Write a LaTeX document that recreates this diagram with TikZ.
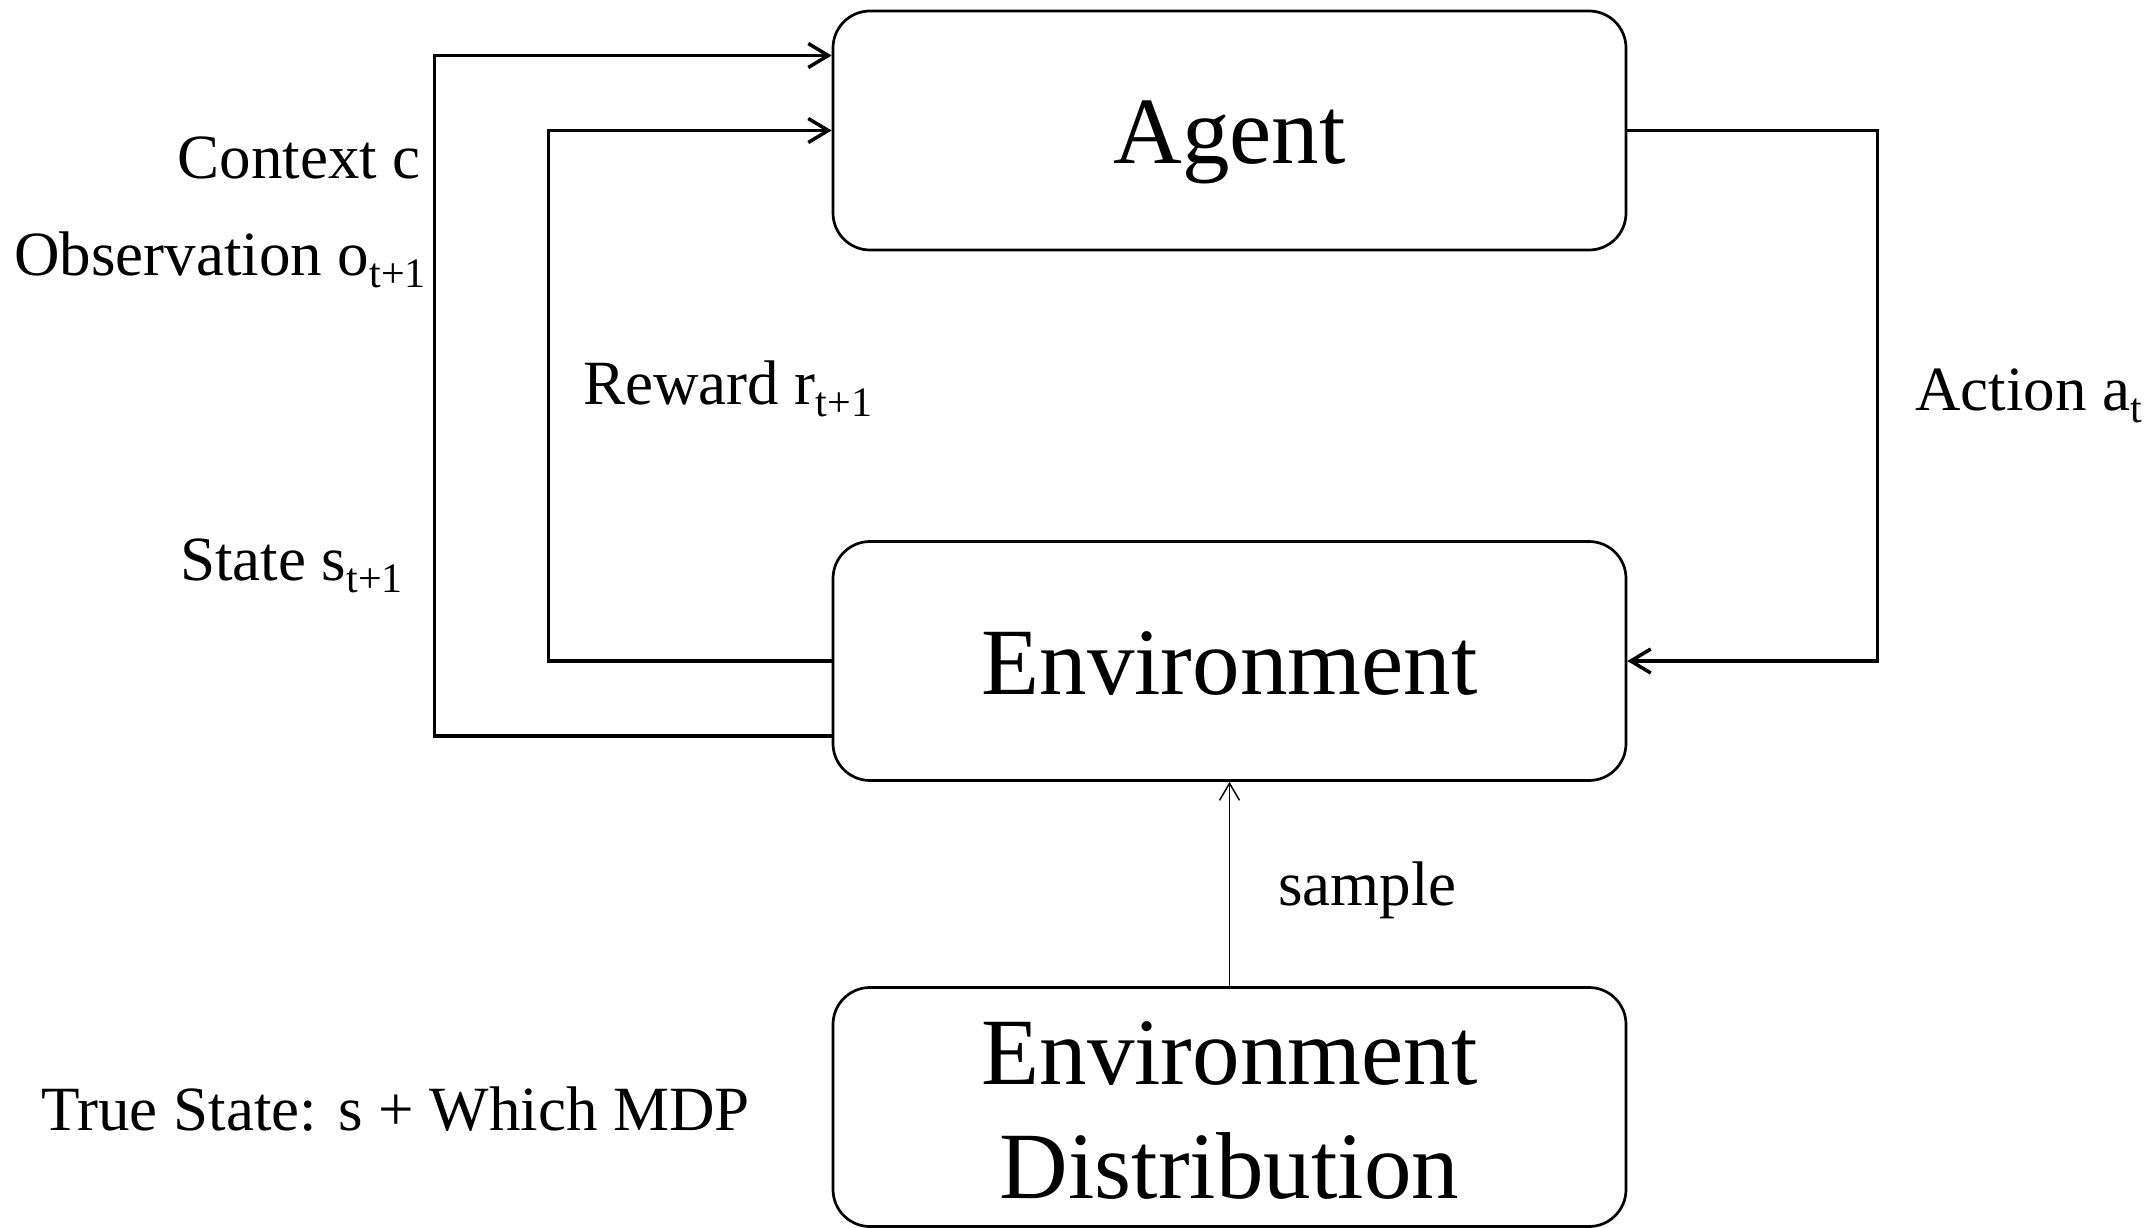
\documentclass[tikz,border=0pt]{standalone}
\usepackage{fontspec}
\setmainfont{Liberation Serif}
\usetikzlibrary{arrows.meta}
\newcommand{\sbt}[1]{\raisebox{-12pt}{\fontsize{42}{42}\selectfont #1}}
\begin{document}
\begin{tikzpicture}[x=1pt,y=-1pt,
  box/.style={draw, line width=2.7pt, rounded corners=37pt, minimum width=793pt, minimum height=239pt, inner sep=0pt},
  bigtxt/.style={font=\fontsize{95}{95}\selectfont},
  lbl/.style={font=\fontsize{63}{63}\selectfont, inner sep=0pt},
  conn/.style={line width=3.5pt, -{Straight Barb[length=20pt, width=24pt, line width=3.5pt]}},
  thinconn/.style={line width=1.5pt, -{Straight Barb[length=17pt, width=20pt, line width=1.5pt]}}]
\useasboundingbox (0,0) rectangle (2152,1228);
\node[box, bigtxt, text height=66pt, text depth=0pt] (agent) at (1229.5,130.5) {Agent};
\node[box, bigtxt, text height=66pt, text depth=0pt] (env) at (1229.5,661) {Environment};
\node[box] (dist) at (1229.5,1107) {};
\node[bigtxt, anchor=base, inner sep=0pt] (distA) at (1229.5,1084) {Environment};
\node[bigtxt, anchor=base, inner sep=0pt] (distB) at (1229.5,1198) {Distribution};
\draw[conn] ([yshift=-75pt]env.west) -- ++(-397,0) |- ([yshift=75pt]agent.west);
\draw[conn] (env.west) -- ++(-283,0) |- (agent.west);
\draw[conn] (agent.east) -- ++(250,0) |- (env.east);
\draw[thinconn] (dist.north) -- (env.south);
\node[lbl, anchor=base east] (ctx) at (421,178) {Context c};
\node[lbl, anchor=base east] (obs) at (426,275) {Observation o\sbt{t+1}};
\node[lbl, anchor=base east] (st) at (403,580) {State s\sbt{t+1}};
\node[lbl, anchor=base west] (rew) at (583,404) {Reward r\sbt{t+1}};
\node[lbl, anchor=base west] (act) at (1915,410) {Action a\sbt{t}};
\node[lbl, anchor=base west] (smp) at (1278,905) {sample};
\node[lbl, anchor=base west] (true) at (41,1130) {True State: s + Which MDP};
\end{tikzpicture}
\end{document}
